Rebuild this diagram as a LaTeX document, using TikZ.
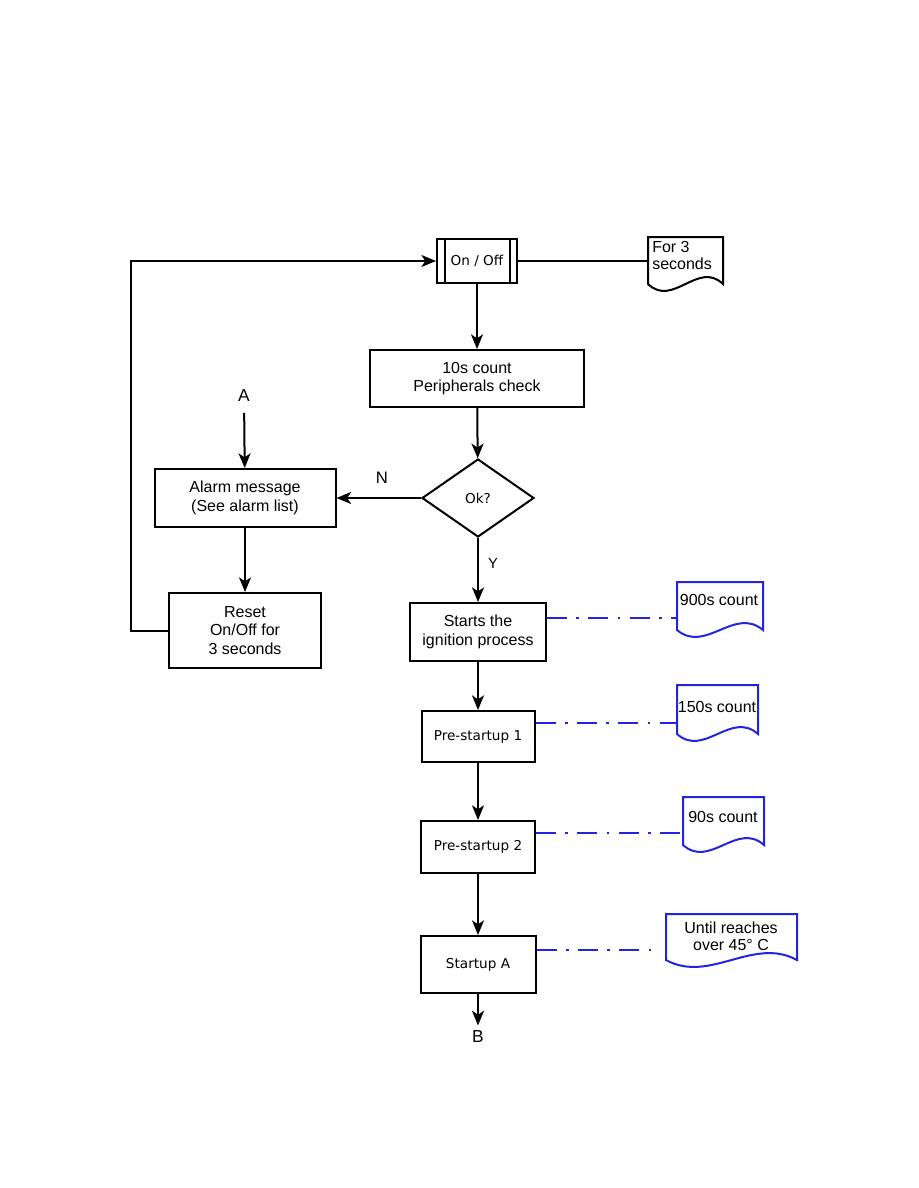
\documentclass[tikz,border=0pt]{standalone}
\usepackage{fontspec}
\setmainfont{Liberation Sans}
\newfontfamily\djv{DejaVu Sans}
\usetikzlibrary{shapes.geometric,arrows.meta}
\definecolor{dblue}{RGB}{35,35,225}
\newcommand{\mydoc}[5]{% L T R B colour
  \draw[line width=1.5pt,#5] (#1,#4) -- (#1,#2) -- (#3,#2) -- (#3,#4)
    .. controls ({#3-(#3-#1)/3},{#4-24}) and ({#1+(#3-#1)/3},{#4+24}) .. (#1,#4) -- cycle;}
\begin{document}
\begin{tikzpicture}[x=0.75pt,y=-0.75pt,
  wh/.style 2 args={minimum width={#1*0.75pt},minimum height={#2*0.75pt}},
  box/.style={draw=black,line width=1.5pt,rectangle,inner sep=0pt,align=center,
    font=\fontsize{12}{14}\selectfont},
  sbox/.style={box,font=\djv\fontsize{10.2}{12}\selectfont},
  arr/.style={line width=1.5pt,-{Stealth[length=11pt,width=9pt,inset=3pt]}},
  ln/.style={line width=1.5pt},
  dd/.style={dblue,line width=1.5pt,dash pattern=on 15pt off 7pt on 2pt off 7pt},
  lab/.style={font=\fontsize{13}{15}\selectfont,inner sep=0pt},
  doctext/.style={inner sep=0pt,align=center,font=\fontsize{12}{13}\selectfont}
]
\useasboundingbox (0,0) rectangle (918,1188);

% main column
\node[sbox,wh={80}{44}] (onoff) at (477,261) {On / Off};
\draw[ln] ([xshift=6.75pt]onoff.north west) -- ([xshift=6.75pt]onoff.south west);
\draw[ln] ([xshift=-6pt]onoff.north east) -- ([xshift=-6pt]onoff.south east);
\node[box,wh={214}{57}] (cnt) at (477,378.5) {10s count\\Peripherals check};
\node[draw,line width=1.5pt,diamond,wh={112}{78},inner sep=0pt,
  font=\djv\fontsize{10.2}{12}\selectfont] (ok) at (478,498) {Ok?};
\node[box,wh={136}{58}] (start) at (478,632) {Starts the\\ignition process};
\node[sbox,wh={113}{51}] (pre1) at (478,736.5) {Pre-startup 1};
\node[sbox,wh={114}{52}] (pre2) at (478,847) {Pre-startup 2};
\node[sbox,wh={115}{57}] (sA) at (478,964.5) {Startup A};
\node[lab,inner sep=4pt] (B) at (478,1037) {B};

% left column
\node[lab,inner sep=8pt] (A) at (244,396) {A};
\node[box,wh={181}{58}] (alarm) at (245,498) {Alarm message\\(See alarm list)};
\node[box,wh={152}{75}] (reset) at (245,630.5) {Reset\\On/Off for\\3 seconds};

% labels
\node[lab,font=\fontsize{12.5}{14}\selectfont] (N) at (382,478) {N};
\node[lab,font=\fontsize{11}{13}\selectfont] (Y) at (493,563) {Y};

% connectors
\draw[arr] (onoff) -- (cnt);
\draw[arr] (cnt) -- (ok);
\draw[arr] (ok.west) -- (alarm.east);
\draw[arr] (ok.south) -- (start.north);
\draw[arr] (start) -- (pre1);
\draw[arr] (pre1) -- (pre2);
\draw[arr] (pre2) -- (sA);
\draw[arr] (sA) -- (B);
\draw[arr] (A) -- (alarm);
\draw[arr] (alarm) -- (reset);
\draw[arr] (reset.west) -- ++(-37,0) |- (onoff.west);

% documents
\mydoc{648}{237}{723}{284}{black}
\node[doctext,align=left,anchor=north west] (t3s) at (652,241) {For 3\\seconds};
\coordinate (c3s) at (648,261);
\draw[ln] (onoff.east) -- (c3s);

\mydoc{677}{582}{763}{630}{dblue}
\node[doctext] (t900) at (719,600) {900s count};
\coordinate (c900) at (677,618);
\draw[dd] (start.east |- c900) -- (c900);

\mydoc{677}{685}{758}{734}{dblue}
\node[doctext] (t150) at (717,707) {150s count};
\coordinate (c150) at (677,723);
\draw[dd] (pre1.east |- c150) -- (c150);

\mydoc{683}{797}{764}{845}{dblue}
\node[doctext] (t90) at (723,817) {90s count};
\coordinate (c90) at (683,833);
\draw[dd] (pre2.east |- c90) -- (c90);

\mydoc{666}{914}{797}{960}{dblue}
\node[doctext] (tUntil) at (731,936) {Until reaches\\over 45° C};
\coordinate (cUntil) at (659,950);
\draw[dd] (sA.east |- cUntil) -- (cUntil);
\end{tikzpicture}
\end{document}
